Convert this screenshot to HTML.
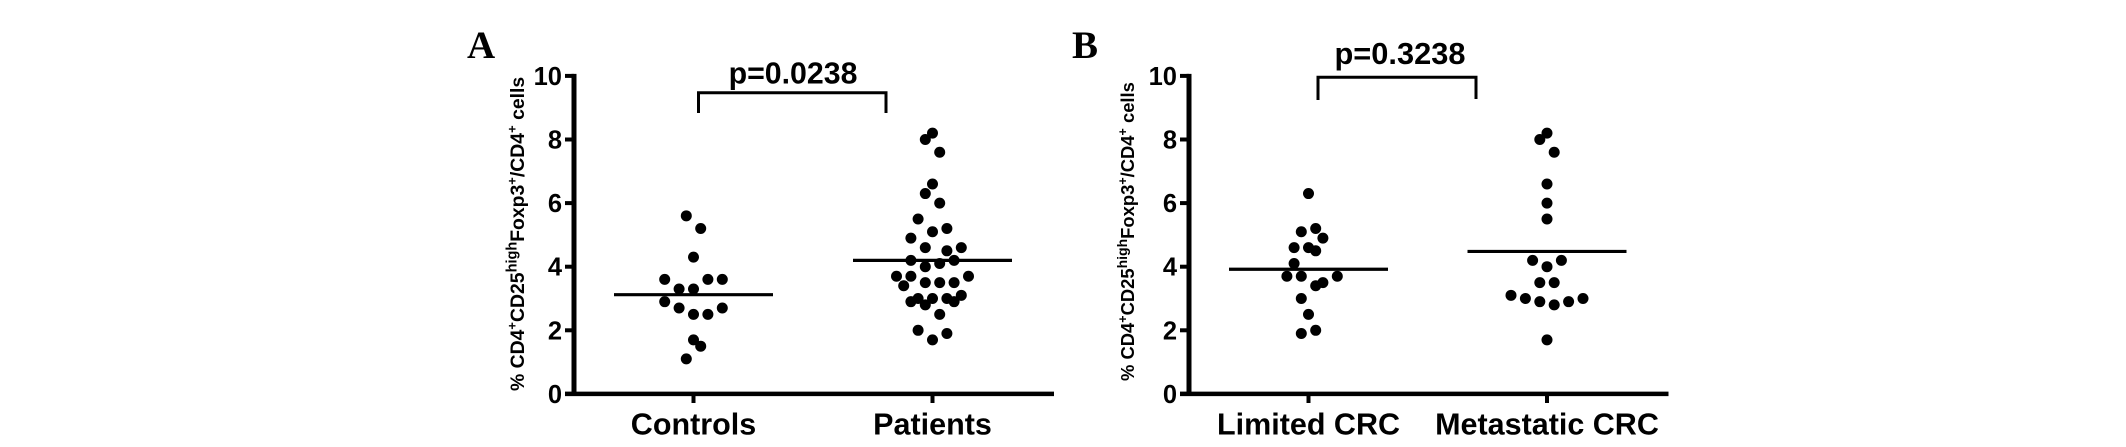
<!DOCTYPE html>
<html lang="en">
<head>
<meta charset="utf-8">
<title>CD4+CD25highFoxp3+ cells dot plots</title>
<style>
html,body{margin:0;padding:0;background:#fff;}
body{width:2126px;height:447px;overflow:hidden;}
svg{display:block;}
text{font-family:"Liberation Sans",sans-serif;font-weight:bold;fill:#000;}
</style>
</head>
<body>
<svg id="figure" xmlns="http://www.w3.org/2000/svg" width="2126" height="447" viewBox="0 0 2126 447">
<rect x="0" y="0" width="2126" height="447" fill="#fff"/>
<text x="467" y="58" style="font-family:'Liberation Serif',serif;font-size:39px;">A</text>
<text x="1072" y="58" style="font-family:'Liberation Serif',serif;font-size:39px;">B</text>
<text transform="translate(524,391) rotate(-90)" style="font-size:19.4px;">% CD4<tspan dy="-7.5" font-size="13">+</tspan><tspan dy="7.5">CD25</tspan><tspan dy="-7.5" font-size="14.5">high</tspan><tspan dy="7.5">Foxp3</tspan><tspan dy="-7.5" font-size="13">+</tspan><tspan dy="7.5">/CD4</tspan><tspan dy="-7.5" font-size="13">+</tspan><tspan dy="7.5"> cells</tspan></text>
<text transform="translate(1134,381) rotate(-90)" style="font-size:18.4px;">% CD4<tspan dy="-7" font-size="12.5">+</tspan><tspan dy="7">CD25</tspan><tspan dy="-7" font-size="14">high</tspan><tspan dy="7">Foxp3</tspan><tspan dy="-7" font-size="12.5">+</tspan><tspan dy="7">/CD4</tspan><tspan dy="-7" font-size="12.5">+</tspan><tspan dy="7"> cells</tspan></text>
<path d="M698.5 113V92.7H886V113" fill="none" stroke="#000" stroke-width="3"/>
<text x="793" y="83.5" text-anchor="middle" style="font-size:30.3px;">p=0.0238</text>
<path d="M1318 100V77.3H1476V99" fill="none" stroke="#000" stroke-width="3"/>
<text x="1400" y="64" text-anchor="middle" style="font-size:30.8px;">p=0.3238</text>
</svg>
<script>
// Shared y axis ticks
var yTicks = [0, 2, 4, 6, 8, 10];

// Panel A
var categoriesA = ['Controls', 'Patients'];
var controlsValues = [5.6, 5.2, 4.3, 3.6, 3.6, 3.6, 3.3, 3.3, 2.9, 2.7, 2.7, 2.5, 2.5, 1.7, 1.5, 1.1];
var controlsSwarm = [-1, 1, 0, -4, 2, 4, -2, 0, -4, -2, 4, 0, 2, 0, 1, -1];
var controlsMean = 3.12;
var patientsValues = [8.2, 8.0, 7.6, 6.6, 6.3, 6.0, 5.5, 5.2, 5.1, 4.9, 4.6, 4.5, 4.6, 4.2, 4.2, 4.0, 4.1, 3.7, 3.7, 3.7, 3.4, 3.5, 3.5, 3.5, 2.9, 3.0, 3.0, 3.0, 2.9, 3.1, 2.8, 2.5, 2.0, 1.9, 1.7];
var patientsSwarm = [0, -1, 1, 0, -1, 1, -2, 2, 0, -3, -1, 2, 4, -3, 3, -1, 1, -5, -3, 5, -4, -1, 1, 3, -3, -2, 0, 2, 3, 4, -1, 1, -2, 2, 0];
var patientsMean = 4.2;

// Panel B
var categoriesB = ['Limited CRC', 'Metastatic CRC'];
var limitedValues = [6.3, 5.2, 5.1, 4.9, 4.6, 4.6, 4.5, 4.1, 3.7, 3.7, 3.7, 3.5, 3.4, 3.0, 2.5, 2.0, 1.9];
var limitedSwarm = [0, 1, -1, 2, -2, 0, 1, -2, -3, -1, 4, 2, 1, -1, 0, 1, -1];
var limitedMean = 3.92;
var metastaticValues = [8.2, 8.0, 7.6, 6.6, 6.0, 5.5, 4.2, 4.2, 4.0, 3.5, 3.5, 3.1, 3.0, 2.9, 2.8, 2.9, 3.0, 1.7];
var metastaticSwarm = [0, -1, 1, 0, 0, 0, -2, 2, 0, -1, 1, -5, -3, -1, 1, 3, 5, 0];
var metastaticMean = 4.48;

var svg = document.getElementById('figure');
var NS = 'http://www.w3.org/2000/svg';

function yScale(v) {
  return 393.9 - v * 31.8;
}

function make(tag, attrs, parent) {
  var el = document.createElementNS(NS, tag);
  for (var k in attrs) {
    el.setAttribute(k, attrs[k]);
  }
  parent.appendChild(el);
  return el;
}

function drawPanel(panel, axisX, axisEnd, centers, categories, seriesValues, seriesSwarm, means, meanHalf) {
  var g = make('g', {}, svg);
  
  

  var yAxis = make('line', {x1: axisX, x2: axisX, y1: yScale(10) - 2, y2: yScale(0) + 2, stroke: '#000', 'stroke-width': 5}, g);
  
  

  var xAxis = make('line', {x1: axisX - 9, x2: axisEnd, y1: yScale(0), y2: yScale(0), stroke: '#000', 'stroke-width': 4.5}, g);
  
  

  yTicks.forEach(function (t) {
    var tick = make('line', {x1: axisX - 9, x2: axisX, y1: yScale(t), y2: yScale(t), stroke: '#000', 'stroke-width': 4}, g);
    
    

    var label = make('text', {x: axisX - 12, y: yScale(t) + 9, 'text-anchor': 'end', style: 'font-size:25.5px;'}, g);
    label.textContent = String(t);
    
    
  });

  categories.forEach(function (name, i) {
    var cx = centers[i];

    var tick = make('line', {x1: cx, x2: cx, y1: yScale(0), y2: 403, stroke: '#000', 'stroke-width': 4}, g);
    
    

    var label = make('text', {x: cx, y: 434.3, 'text-anchor': 'middle', style: 'font-size:30.5px;'}, g);
    label.textContent = name;
    
    

    seriesValues[i].forEach(function (v, j) {
      var dot = make('circle', {cx: cx + seriesSwarm[i][j] * 7.2, cy: yScale(v), r: 5.5, fill: '#000'}, g);
      
      
    });

    var mean = make('line', {x1: cx - meanHalf, x2: cx + meanHalf, y1: yScale(means[i]), y2: yScale(means[i]), stroke: '#000', 'stroke-width': 3.2}, g);
    
    
  });
}

drawPanel('panel-a', 574, 1054, [693.5, 932.5], categoriesA, [controlsValues, patientsValues], [controlsSwarm, patientsSwarm], [controlsMean, patientsMean], 79.5);
drawPanel('panel-b', 1189, 1668.5, [1308.5, 1547], categoriesB, [limitedValues, metastaticValues], [limitedSwarm, metastaticSwarm], [limitedMean, metastaticMean], 79.5);
</script>
</body>
</html>
